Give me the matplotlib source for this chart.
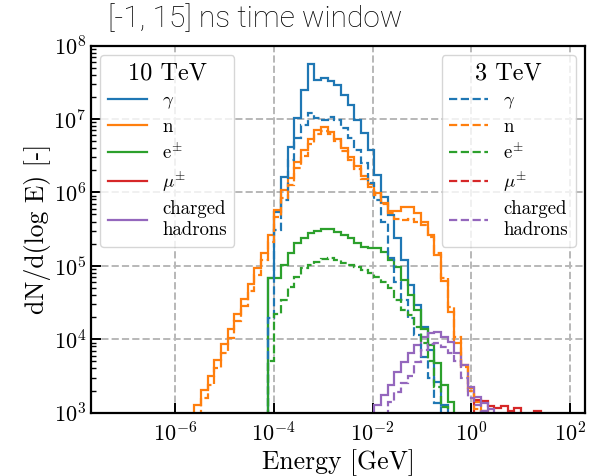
import numpy as np
import matplotlib.pyplot as plt
from matplotlib.lines import Line2D
from matplotlib.ticker import NullLocator

# --- settings -----------------------------------------------------------------
plt.rcParams.update({
    'font.family': 'serif',
    'font.serif': ['cmr10'],
    'mathtext.fontset': 'cm',
    'axes.formatter.use_mathtext': True,
    'axes.unicode_minus': False,
})

# log10(E/GeV) binning of the spectra
LOG_E0 = -4.125     # lower edge of bin 0
LOG_DE = 0.135      # bin width in decades
K_MIN, K_MAX = -27, 48
edges = 10 ** (LOG_E0 + LOG_DE * np.arange(K_MIN, K_MAX + 1))

# --- data: dN/d(log E) per bin, first bin index given separately ---------------
# 10 TeV
gamma_10_k0 = 0
gamma_10 = [6.8e4, 5.4e5, 1.62e6, 4.2e6, 1.02e7, 2.45e7, 5.6e7, 3.4e7, 3.6e7, 3.3e7,
            2.9e7, 2.14e7, 1.55e7, 9.8e6, 6.5e6, 3.8e6, 1.74e6, 8.7e5, 4.9e5, 2.4e5,
            1.2e5, 5.5e4, 2.9e4, 1.48e4, 7.1e3, 2.6e3, 1.26e3]
n_10_k0 = -11
n_10 = [1.26e3, 2.04e3, 3.2e3, 5.2e3, 8.5e3, 1.38e4, 2.2e4, 3.55e4, 5.6e4, 9.3e4,
        1.48e5, 2.6e5, 5.75e5, 1.07e6, 1.55e6, 2.6e6, 3.8e6, 5.4e6, 7.1e6, 7.8e6,
        6.6e6, 5.4e6, 4.0e6, 3.0e6, 2.3e6, 1.66e6, 1.29e6, 9.8e5, 7.2e5, 5.6e5,
        5.6e5, 6.3e5, 6.3e5, 5.25e5, 4.0e5, 2.6e5, 1.4e5, 6.3e4, 2.34e4, 8.9e3,
        4.5e3, 2.14e3, 1.38e3, 1.05e3]
e_10_k0 = 0
e_10 = [6.8e4, 6.8e4, 1.02e5, 1.48e5, 2.04e5, 2.4e5, 2.8e5, 2.95e5, 3.16e5, 3.16e5,
        2.9e5, 2.6e5, 2.4e5, 2.04e5, 1.82e5, 1.74e5, 1.74e5, 1.55e5, 1.2e5, 9.5e4,
        6.5e4, 4.0e4, 2.5e4, 1.4e4, 8.3e3, 4.7e3, 2.4e3, 1.38e3]
mu_10_k0 = 31
mu_10 = [1.48e3, 1.45e3, 1.23e3, 1.15e3, 1.23e3, 1.07e3, 1.15e3, 5e2, 5e2, 1.07e3]
had_10_k0 = 16
had_10 = [1.26e3, 1.74e3, 2.4e3, 3.55e3, 4.9e3, 6.6e3, 8.3e3, 1.07e4, 1.2e4, 1.26e4,
          1.07e4, 9.1e3, 6.6e3, 4.5e3, 2.24e3, 1.62e3, 1.35e3, 1.12e3]

# 3 TeV
gamma_3_k0 = 0
gamma_3 = [1.95e4, 3.1e5, 7.9e5, 2.75e6, 5.5e6, 8.3e6, 1.2e7, 1.02e7, 9.8e6, 1.07e7,
           9.8e6, 7.6e6, 5.5e6, 3.8e6, 2.5e6, 1.35e6, 7.9e5, 3.9e5, 1.26e5, 6.0e4,
           3.4e4, 1.95e4, 1.15e4, 5.75e3, 2.95e3, 1.35e3]
n_3_k0 = -10
n_3 = [1.58e3, 2.4e3, 4.0e3, 6.6e3, 1.05e4, 1.78e4, 2.8e4, 4.6e4, 7.6e4, 1.2e5,
       2.1e5, 4.6e5, 8.5e5, 1.26e6, 2.14e6, 3.16e6, 4.6e6, 6.2e6, 6.9e6, 6.3e6,
       5.0e6, 3.7e6, 2.8e6, 2.1e6, 1.5e6, 1.17e6, 9.3e5, 6.9e5, 5.25e5, 4.3e5,
       4.2e5, 4.3e5, 4.0e5, 3.55e5, 2.5e5, 1.48e5, 6.9e4, 2.75e4, 1.07e4, 4.2e3,
       2.0e3, 1.12e3]
e_3_k0 = 0
e_3 = [5.1e3, 2.24e4, 3.4e4, 5.1e4, 7.1e4, 9.3e4, 1.02e5, 1.12e5, 1.23e5, 1.26e5,
       1.2e5, 1.1e5, 1.02e5, 9.5e4, 8.7e4, 8.1e4, 7.1e4, 6.0e4, 5.0e4, 3.4e4,
       2.5e4, 2.14e4, 1.48e4, 8.9e3, 5.1e3, 2.24e3, 1.2e3]
mu_3_k0 = 31
mu_3 = [8e2, 9e2, 7e2]
had_3_k0 = 18
had_3 = [1.38e3, 1.9e3, 2.5e3, 3.2e3, 4.9e3, 7.1e3, 8.5e3, 8.9e3, 7.8e3, 6.6e3,
         5.1e3, 2.95e3, 1.58e3, 1.26e3, 1.07e3]

labels = [r'$\gamma$', 'n', r'e$^{\pm}$', r'$\mu^{\pm}$', 'charged\nhadrons']
colors = ['tab:blue', 'tab:orange', 'tab:green', 'tab:red', 'tab:purple']

series_10 = [(gamma_10, gamma_10_k0), (n_10, n_10_k0), (e_10, e_10_k0),
             (mu_10, mu_10_k0), (had_10, had_10_k0)]
series_3 = [(gamma_3, gamma_3_k0), (n_3, n_3_k0), (e_3, e_3_k0),
            (mu_3, mu_3_k0), (had_3, had_3_k0)]

# --- plot ---------------------------------------------------------------------
fig = plt.figure(figsize=(5.9, 4.76), dpi=100)
ax = fig.add_axes([0.1542, 0.133, 0.8373, 0.7714])

LW = 1.6
for (vals, k0), c in zip(series_10, colors):
    i = k0 - K_MIN
    ax.stairs(vals, edges[i:i + len(vals) + 1], baseline=1, color=c, lw=LW, ls='-')
for (vals, k0), c in zip(series_3, colors):
    i = k0 - K_MIN
    ax.stairs(vals, edges[i:i + len(vals) + 1], baseline=1, color=c, lw=LW, ls='--')

ax.set_xscale('log')
ax.set_yscale('log')
ax.set_xlim(2e-8, 2e2)
ax.set_ylim(1e3, 1e8)
ax.set_xticks([1e-6, 1e-4, 1e-2, 1e0, 1e2])
ax.xaxis.set_minor_locator(NullLocator())

ax.grid(True, which='major', ls='--', color='#b8b8b8', lw=1.4)
ax.set_axisbelow(True)
ax.tick_params(which='both', direction='in', labelsize=16)
ax.tick_params(which='major', length=7, width=1.4)
ax.tick_params(which='minor', length=3.5, width=1.0)
ax.tick_params(axis='x', pad=6)
for s in ax.spines.values():
    s.set_linewidth(1.6)

ax.set_xlabel('Energy [GeV]', fontsize=18.5, labelpad=3)
ax.set_ylabel('dN/d(log E) [-]', fontsize=18.5, labelpad=2)

h10 = [Line2D([], [], color=c, lw=LW, ls='-') for c in colors]
h3 = [Line2D([], [], color=c, lw=LW, ls='--') for c in colors]
leg_kw = dict(fontsize=13.5, title_fontsize=17.5, handlelength=2.1,
              labelspacing=0.36, borderpad=0.4, framealpha=0.8)
leg1 = ax.legend(h10, labels, title='10 TeV', loc='upper left', **leg_kw)
ax.add_artist(leg1)
ax.legend(h3, labels, title='3 TeV', loc='upper right', **leg_kw)

fig.text(108 / 590, 1 - 19 / 476, '[-1, 15] ns time window', family='Roboto',
         fontweight='light', fontsize=21.5, ha='left', va='center')

fig.savefig('out.png', dpi=100)
